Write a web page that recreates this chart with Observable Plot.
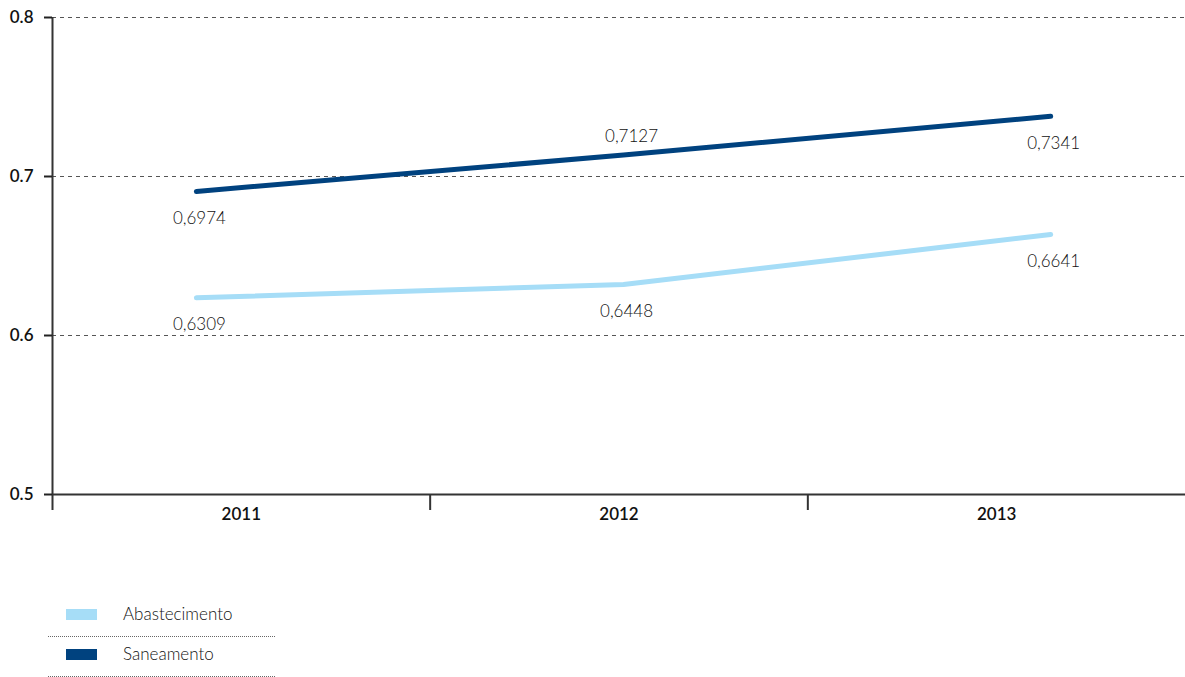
<!DOCTYPE html>
<html>
<head>
<meta charset="utf-8">
<script src="https://cdn.jsdelivr.net/npm/d3@7"></script>
<script src="https://cdn.jsdelivr.net/npm/@observablehq/plot@0.6"></script>
<style>
  html, body { margin: 0; padding: 0; background: #fff; }
  #wrap { position: relative; width: 1185px; height: 677px; font-family: Lato, "Open Sans", sans-serif; }
  #legend { position: absolute; left: 48px; top: 597px; width: 227px; }
  .row { position: relative; box-sizing: border-box; height: 40px; border-bottom: 1px dotted #666; }
  .sw { position: absolute; left: 18px; top: 12px; width: 31px; height: 11px; }
  .lb { position: absolute; left: 75px; top: 6px; font-size: 17px; font-weight: 300; color: #111; line-height: 22px; }
</style>
</head>
<body>
<div id="wrap"></div>
<script>
// ---- data ----
const years = ["2011", "2012", "2013"];
const seriesNames = ["Abastecimento", "Saneamento"];
const abastecimento = [0.6237, 0.6321, 0.6635];
const saneamento = [0.6906, 0.7135, 0.7379];
const abastecimentoLabels = [0.6309, 0.6448, 0.6641];
const saneamentoLabels = [0.6974, 0.7127, 0.7341];
const yTicks = [0.5, 0.6, 0.7, 0.8];
const colors = ["#a6ddf7", "#00427f"];

// ---- build table ----
const center = 1.512, spread = 1.131; // layout of line points within the category axis
const rows = [];
[abastecimento, saneamento].forEach((vals, s) => {
  const labs = s === 0 ? abastecimentoLabels : saneamentoLabels;
  vals.forEach((v, i) => rows.push({
    serie: seriesNames[s], year: years[i], i, v, label: labs[i],
    px: center + (i - 1) * spread
  }));
});
const fmt = v => d3.format(".4f")(v).replace(".", ",");
const above = d => d.serie === "Saneamento" && d.i === 1;

const W = 1185, H = 540;
const chart = Plot.plot({
  width: W, height: H,
  marginLeft: 52, marginRight: 0, marginTop: 17, marginBottom: H - 494,
  style: { fontFamily: "Lato, 'Open Sans', sans-serif", background: "#fff" },
  x: { type: "linear", domain: [0, years.length], axis: null },
  y: { domain: [0.5, 0.8], axis: null },
  color: { domain: seriesNames, range: colors },
  marks: [
    Plot.ruleY(yTicks.filter(t => t > 0.5), { stroke: "#555", strokeWidth: 1, strokeDasharray: "4,4" }),
    Plot.ruleX([0], { y1: 0.8, y2: 0.5, insetBottom: -16, stroke: "#333", strokeWidth: 2 }),
    Plot.axisY(yTicks, { anchor: "left", label: null, tickSize: 8, tickPadding: 11, tickFormat: d3.format(".1f"),
      fontSize: 17, fontWeight: 600, stroke: "#222", strokeWidth: 2, color: "#111" }),
    Plot.ruleY([0.5], { stroke: "#333", strokeWidth: 2 }),
    Plot.ruleX(d3.range(1, years.length), { y1: 0.5, y2: 0.5, insetBottom: -16, stroke: "#333", strokeWidth: 2 }),
    Plot.text(years, { x: (d, i) => i + 0.5, y: () => 0.5, text: d => d, dy: 20,
      fontSize: 17, fontWeight: 600, fill: "#111" }),
    Plot.line(rows, { x: "px", y: "v", z: "serie", stroke: "serie", strokeWidth: 5 }),
    Plot.text(rows.filter(d => !above(d)), { x: "px", y: "v", text: d => fmt(d.label), dy: 27, dx: 3,
      fontSize: 17, fontWeight: 300, fill: "#111" }),
    Plot.text(rows.filter(above), { x: "px", y: "v", text: d => fmt(d.label), dy: -18, dx: 8,
      fontSize: 17, fontWeight: 300, fill: "#111" })
  ]
});
const wrap = document.getElementById("wrap");
wrap.appendChild(chart);

const legend = document.createElement("div");
legend.id = "legend";
seriesNames.forEach((name, k) => {
  const row = document.createElement("div");
  row.className = "row";
  row.innerHTML = `<div class="sw" style="background:${colors[k]}"></div><div class="lb">${name}</div>`;
  legend.appendChild(row);
});
wrap.appendChild(legend);
</script>
</body>
</html>
